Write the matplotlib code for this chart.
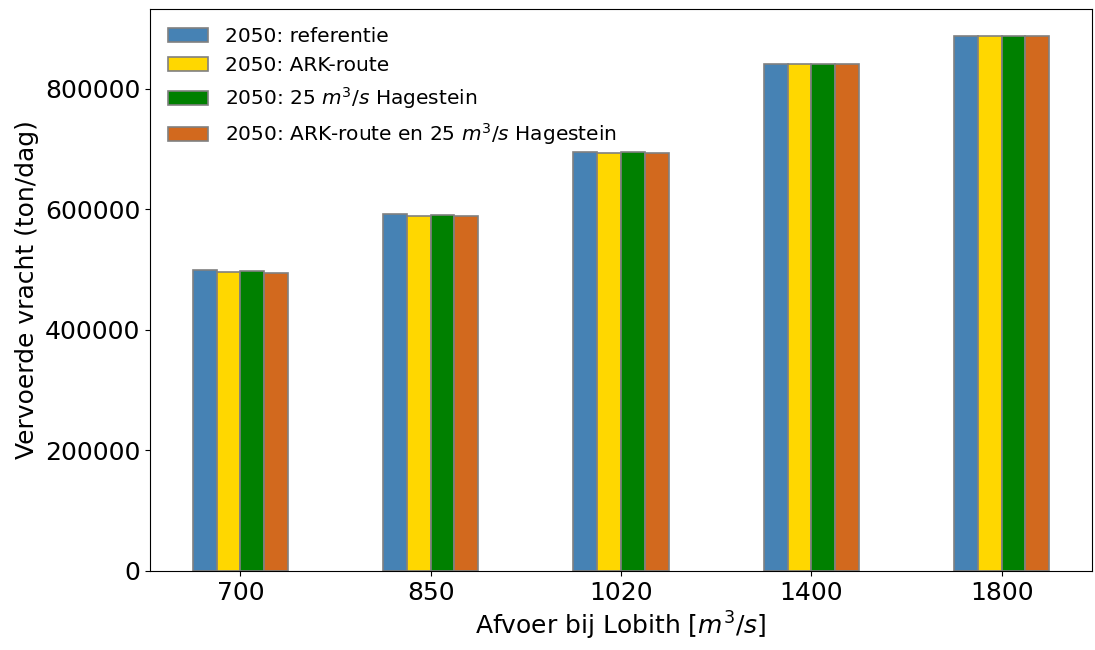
import numpy as np
import matplotlib.pyplot as plt

afvoer = ["700", "850", "1020", "1400", "1800"]
referentie = [499000, 592000, 695000, 841000, 888000]
ark_route = [496000, 589000, 693000, 841000, 888000]
hagestein = [498000, 591000, 695000, 841000, 888000]
ark_hagestein = [495000, 589000, 693000, 841000, 888000]

labels = [
    "2050: referentie",
    "2050: ARK-route",
    "2050: 25 $m^3/s$ Hagestein",
    "2050: ARK-route en 25 $m^3/s$ Hagestein",
]
colors = ["steelblue", "gold", "green", "chocolate"]
series = [referentie, ark_route, hagestein, ark_hagestein]

fig = plt.figure(figsize=(10.95, 6.5), dpi=100)
ax = fig.add_axes([150 / 1095, 1 - 571 / 650, (1092 - 150) / 1095, (571 - 9) / 650])

x = np.arange(len(afvoer))
width = 0.125
for i, (vals, lab, col) in enumerate(zip(series, labels, colors)):
    ax.bar(x + (i - 1.5) * width, vals, width, label=lab, color=col,
           edgecolor="grey", linewidth=1.2)

ax.set_xticks(x)
ax.set_xticklabels(afvoer)
ax.tick_params(labelsize=18)
ax.set_xlabel("Afvoer bij Lobith [$m^3/s$]", fontsize=18)
ax.set_ylabel("Vervoerde vracht (ton/dag)", fontsize=18)
ax.legend(fontsize=14.5, frameon=False, loc="upper left")

fig.savefig("out.png", dpi=100)
